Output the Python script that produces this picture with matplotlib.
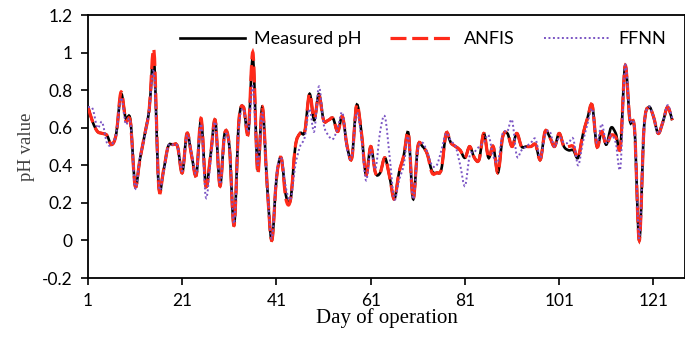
import numpy as np
import matplotlib
matplotlib.use("Agg")
import matplotlib.pyplot as plt
from matplotlib.path import Path
from matplotlib.patches import PathPatch
from matplotlib.lines import Line2D
from matplotlib.ticker import FuncFormatter

# days 1..125
days = np.arange(1, 126)

measured = [0.71, 0.63, 0.58, 0.57, 0.56, 0.51, 0.57, 0.78, 0.65, 0.64,
            0.29, 0.43, 0.56, 0.70, 0.96, 0.29, 0.37, 0.50, 0.51, 0.50,
            0.36, 0.57, 0.45, 0.35, 0.64, 0.29, 0.45, 0.64, 0.29, 0.57,
            0.50, 0.08, 0.63, 0.71, 0.57, 0.97, 0.38, 0.71, 0.30, 0.00,
            0.33, 0.44, 0.24, 0.22, 0.50, 0.57, 0.58, 0.78, 0.64, 0.78,
            0.64, 0.64, 0.65, 0.58, 0.66, 0.50, 0.44, 0.72, 0.58, 0.35,
            0.50, 0.36, 0.36, 0.44, 0.34, 0.22, 0.36, 0.45, 0.57, 0.22,
            0.50, 0.50, 0.46, 0.37, 0.36, 0.38, 0.57, 0.52, 0.50, 0.48,
            0.44, 0.50, 0.44, 0.43, 0.57, 0.44, 0.50, 0.36, 0.55, 0.57,
            0.50, 0.57, 0.50, 0.50, 0.50, 0.51, 0.43, 0.58, 0.55, 0.50,
            0.57, 0.50, 0.48, 0.48, 0.44, 0.56, 0.65, 0.72, 0.50, 0.58,
            0.51, 0.60, 0.57, 0.50, 0.93, 0.64, 0.59, 0.00, 0.60, 0.71,
            0.66, 0.57, 0.63, 0.71, 0.64]

anfis = [0.71, 0.63, 0.58, 0.57, 0.56, 0.51, 0.57, 0.79, 0.64, 0.63,
         0.29, 0.43, 0.56, 0.70, 1.01, 0.29, 0.37, 0.50, 0.51, 0.50,
         0.36, 0.57, 0.45, 0.35, 0.65, 0.29, 0.45, 0.64, 0.29, 0.57,
         0.50, 0.08, 0.63, 0.71, 0.57, 1.00, 0.36, 0.71, 0.30, 0.00,
         0.33, 0.44, 0.22, 0.22, 0.50, 0.57, 0.58, 0.78, 0.65, 0.77,
         0.64, 0.64, 0.65, 0.58, 0.66, 0.50, 0.44, 0.72, 0.58, 0.35,
         0.50, 0.36, 0.36, 0.44, 0.34, 0.22, 0.36, 0.45, 0.57, 0.22,
         0.50, 0.50, 0.46, 0.36, 0.36, 0.38, 0.57, 0.52, 0.50, 0.48,
         0.44, 0.50, 0.44, 0.43, 0.57, 0.44, 0.50, 0.36, 0.55, 0.57,
         0.50, 0.57, 0.50, 0.50, 0.50, 0.51, 0.43, 0.58, 0.55, 0.50,
         0.57, 0.50, 0.50, 0.50, 0.44, 0.56, 0.65, 0.72, 0.50, 0.58,
         0.51, 0.56, 0.55, 0.50, 0.93, 0.64, 0.59, 0.00, 0.60, 0.71,
         0.66, 0.57, 0.63, 0.71, 0.64]

ffnn = [0.71, 0.70, 0.60, 0.63, 0.52, 0.51, 0.57, 0.76, 0.62, 0.63,
        0.28, 0.44, 0.55, 0.70, 0.89, 0.30, 0.36, 0.50, 0.51, 0.50,
        0.37, 0.56, 0.46, 0.36, 0.62, 0.23, 0.42, 0.63, 0.30, 0.55,
        0.50, 0.09, 0.60, 0.70, 0.58, 0.82, 0.40, 0.68, 0.30, 0.01,
        0.35, 0.44, 0.28, 0.22, 0.40, 0.50, 0.55, 0.70, 0.58, 0.82,
        0.62, 0.56, 0.54, 0.60, 0.68, 0.48, 0.45, 0.68, 0.55, 0.32,
        0.48, 0.38, 0.58, 0.66, 0.45, 0.22, 0.32, 0.40, 0.55, 0.22,
        0.48, 0.52, 0.47, 0.40, 0.40, 0.48, 0.57, 0.53, 0.50, 0.40,
        0.29, 0.45, 0.47, 0.50, 0.52, 0.56, 0.45, 0.42, 0.57, 0.58,
        0.64, 0.45, 0.48, 0.50, 0.52, 0.54, 0.44, 0.56, 0.58, 0.50,
        0.55, 0.52, 0.52, 0.54, 0.40, 0.52, 0.62, 0.70, 0.52, 0.62,
        0.52, 0.56, 0.52, 0.39, 0.93, 0.65, 0.59, 0.01, 0.60, 0.71,
        0.66, 0.57, 0.63, 0.72, 0.65]

x_ticks = [1, 21, 41, 61, 81, 101, 121]
y_ticks = [-0.2, 0, 0.2, 0.4, 0.6, 0.8, 1, 1.2]


def smooth_path(x, y):
    # excel style smoothed line as bezier segments
    pts = np.column_stack([x, y]).astype(float)
    n = len(pts)
    verts = [pts[0]]
    codes = [Path.MOVETO]
    for i in range(n - 1):
        p0 = pts[i - 1] if i > 0 else pts[i]
        p1 = pts[i]
        p2 = pts[i + 1]
        p3 = pts[i + 2] if i + 2 < n else pts[i + 1]
        verts += [p1 + (p2 - p0) / 6, p2 - (p3 - p1) / 6, p2]
        codes += [Path.CURVE4] * 3
    return Path(verts, codes)


fig = plt.figure(figsize=(6.85, 3.38), dpi=100)
ax = fig.add_axes([0.1285, 0.1775, 0.8715, 0.778])

red = '#ff2a1a'
purple = '#7b55c4'

ax.add_patch(PathPatch(smooth_path(days, measured), fill=False, edgecolor='black',
                       lw=1.9, zorder=3))
ax.add_patch(PathPatch(smooth_path(days, anfis), fill=False, edgecolor=red,
                       lw=2.3, linestyle=(0, (5, 1.8)), zorder=4))
ax.add_patch(PathPatch(smooth_path(days, ffnn), fill=False, edgecolor=purple,
                       lw=1.4, linestyle=(0, (1, 1.3)), zorder=5))

ax.set_xlim(1, 127.7)
ax.set_ylim(-0.2, 1.2)
ax.set_xticks(x_ticks)
ax.set_yticks(y_ticks)
ax.yaxis.set_major_formatter(FuncFormatter(lambda v, p: '%g' % round(v, 2)))

for s in ax.spines.values():
    s.set_linewidth(1.3)
ax.tick_params(direction='out', length=5, width=1.2, labelsize=12.5, pad=6)
for lab in ax.get_xticklabels() + ax.get_yticklabels():
    lab.set_family('Lato')

ax.set_xlabel('Day of operation', family='Liberation Serif', fontsize=15, labelpad=-1)
ax.set_ylabel('pH value', family='Liberation Serif', fontsize=13.5, color='#404040', labelpad=5)

handles = [Line2D([], [], color='black', lw=1.9),
           Line2D([], [], color=red, lw=2.3, linestyle=(0, (5, 1.8))),
           Line2D([], [], color=purple, lw=1.4, linestyle=(0, (1, 1.3)))]
ax.legend(handles, ['Measured pH', 'ANFIS', 'FFNN'], loc='upper right',
          bbox_to_anchor=(0.995, 1.0), ncol=3, frameon=False, handlelength=3.6,
          columnspacing=1.6, handletextpad=0.5, prop={'family': 'Lato', 'size': 13})

fig.savefig('out.png', dpi=100)
